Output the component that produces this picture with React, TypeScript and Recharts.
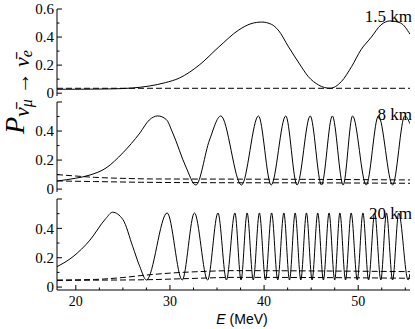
import React from 'react';
import { LineChart, Line, XAxis, YAxis } from 'recharts';

// energy axis ticks (MeV): majors every 10, minors every 2.5
const xTicks = [20, 22.5, 25, 27.5, 30, 32.5, 35, 37.5, 40, 42.5, 45, 47.5, 50, 52.5, 55];
const xLabels = [20, 30, 40, 50];
const yTicks = [0, 0.1, 0.2, 0.3, 0.4, 0.5, 0.6];

// 1.5 km
const e1 = [18, 20, 22, 24, 26, 27.8, 29.5, 31, 33.1, 35.2, 37.3, 38.6, 39.75, 40.8, 41.5, 42.6, 43.7, 44.7, 45.8, 47.0, 48.2, 49.3, 50.3, 51.4, 52.4, 53.4, 54.5, 55.5];
const p1 = [0.028, 0.028, 0.029, 0.031, 0.037, 0.051, 0.075, 0.108, 0.2, 0.33, 0.45, 0.495, 0.507, 0.49, 0.45, 0.33, 0.215, 0.118, 0.058, 0.035, 0.082, 0.19, 0.31, 0.4, 0.486, 0.515, 0.5, 0.42];
const e1Dash = [18, 55.5];
const p1Dash = [0.035, 0.035];

// 8 km
const e2 = [18, 20, 21.5, 23.2, 25, 26.8, 27.8, 28.7, 29.6, 30.3, 31.7, 32.75, 34.2, 35.4, 37.6, 39.4, 40.75, 42.3, 43.5, 44.9, 46.1, 47.25, 48.4, 49.4, 50.85, 52.15, 53.65, 54.95, 55.5];
const p2 = [0.056, 0.075, 0.097, 0.145, 0.25, 0.386, 0.476, 0.504, 0.48, 0.386, 0.152, 0.028, 0.338, 0.504, 0.028, 0.504, 0.028, 0.504, 0.028, 0.504, 0.028, 0.504, 0.028, 0.504, 0.028, 0.504, 0.028, 0.504, 0.45];
const e2DashA = [18, 20, 22, 25, 28, 35, 45, 55.5];
const p2DashA = [0.1, 0.09, 0.081, 0.074, 0.07, 0.069, 0.067, 0.063];
const e2DashB = [18, 22, 27, 35, 45, 55.5];
const p2DashB = [0.056, 0.052, 0.047, 0.044, 0.043, 0.04];

// 20 km
const e3 = [18, 19.7, 21.5, 23.2, 23.9, 25.0, 26.05, 26.8, 27.5, 29.7, 31.3, 32.6, 34.0, 35.1, 36.0, 36.9, 37.55, 38.2, 38.85, 39.5, 40.15, 40.8, 41.45, 42.1, 42.7, 43.3, 43.9, 44.5, 45.1, 45.7, 46.3, 46.9, 47.5, 48.05, 48.65, 49.25, 49.9, 50.5, 51.1, 51.75, 52.4, 53.0, 53.65, 54.3, 55.3, 55.5];
const p3 = [0.139, 0.207, 0.32, 0.468, 0.51, 0.46, 0.275, 0.139, 0.048, 0.505, 0.048, 0.505, 0.048, 0.505, 0.048, 0.505, 0.048, 0.505, 0.048, 0.505, 0.048, 0.505, 0.048, 0.505, 0.048, 0.505, 0.048, 0.505, 0.048, 0.505, 0.048, 0.505, 0.048, 0.505, 0.048, 0.505, 0.048, 0.505, 0.048, 0.505, 0.048, 0.505, 0.048, 0.505, 0.048, 0.09];
const e3DashA = [18, 22, 25, 27.5, 30, 33, 37, 45, 55.5];
const p3DashA = [0.048, 0.052, 0.065, 0.082, 0.095, 0.105, 0.112, 0.11, 0.105];
const e3DashB = [18, 22, 27.5, 32, 37, 45, 55.5];
const p3DashB = [0.045, 0.047, 0.05, 0.058, 0.066, 0.065, 0.06];

const serif = '"Liberation Serif", "Times New Roman", serif';
const sans = '"Liberation Sans", Arial, sans-serif';

const toRows = (es: number[], ps: number[]) => es.map((E, i) => ({ E, p: ps[i] }));

const isMajor = (v: number, step: number) => Math.abs(v / step - Math.round(v / step)) < 1e-6;

function Panel({ top, height, marginTop, marginBottom, axisHeight, series, yLabels, showX }: any) {
  const leftTick = (props: any) => {
    const { x, y, payload } = props;
    const v = payload.value;
    const major = isMajor(v, 0.2);
    const show = major && yLabels.some((l: number) => Math.abs(l - v) < 1e-6);
    return (
      <g>
        <line x1={x} y1={y} x2={x + (major ? 5 : 2.5)} y2={y} stroke="#000" />
        {show && (
          <text x={x - 3} y={y} dy="0.35em" textAnchor="end" fontFamily={serif} fontSize={15} fill="#000">
            {v === 0 ? '0' : v.toFixed(1)}
          </text>
        )}
      </g>
    );
  };
  const rightTick = (props: any) => {
    const { x, y, payload } = props;
    const major = isMajor(payload.value, 0.2);
    return <line x1={x} y1={y} x2={x - (major ? 5 : 2.5)} y2={y} stroke="#000" />;
  };
  const bottomTick = (props: any) => {
    const { x, y, payload } = props;
    const v = payload.value;
    const major = isMajor(v, 10);
    return (
      <g>
        <line x1={x} y1={y} x2={x} y2={y - (major ? 5 : 2.5)} stroke="#000" />
        {showX && xLabels.includes(v) && (
          <text x={x} y={y + 16} textAnchor="middle" fontFamily={serif} fontSize={14} fill="#000">
            {v}
          </text>
        )}
      </g>
    );
  };
  const topTick = (props: any) => {
    const { x, y, payload } = props;
    const major = isMajor(payload.value, 10);
    return <line x1={x} y1={y} x2={x} y2={y + (major ? 5 : 2.5)} stroke="#000" />;
  };

  return (
    <div style={{ position: 'absolute', left: 0, top, width: 415, height }}>
      <LineChart width={415} height={height} margin={{ top: marginTop, right: 5, bottom: marginBottom, left: 0 }}>
        <XAxis
          dataKey="E"
          type="number"
          domain={[18, 55.5]}
          allowDataOverflow
          ticks={xTicks}
          interval={0}
          height={axisHeight}
          tickSize={0}
          tickMargin={0}
          tickLine={false}
          tick={bottomTick}
          axisLine={{ stroke: '#000' }}
        />
        <XAxis
          xAxisId="top"
          orientation="top"
          dataKey="E"
          type="number"
          domain={[18, 55.5]}
          allowDataOverflow
          ticks={xTicks}
          interval={0}
          height={0}
          tickSize={0}
          tickMargin={0}
          tickLine={false}
          tick={topTick}
          axisLine={{ stroke: '#000' }}
        />
        <YAxis
          type="number"
          domain={[-0.02, 0.6]}
          allowDataOverflow
          ticks={yTicks}
          interval={0}
          width={57}
          tickSize={0}
          tickMargin={0}
          tickLine={false}
          tick={leftTick}
          axisLine={{ stroke: '#000' }}
        />
        <YAxis
          yAxisId="right"
          orientation="right"
          type="number"
          domain={[-0.02, 0.6]}
          allowDataOverflow
          ticks={yTicks}
          interval={0}
          width={0}
          tickSize={0}
          tickMargin={0}
          tickLine={false}
          tick={rightTick}
          axisLine={{ stroke: '#000' }}
        />
        {series.map((s: any, i: number) => (
          <Line
            key={i}
            data={s.data}
            dataKey="p"
            type="monotone"
            stroke="#000"
            strokeWidth={1}
            strokeDasharray={s.dashed ? '6 3' : undefined}
            dot={false}
            activeDot={false}
            isAnimationActive={false}
          />
        ))}
      </LineChart>
    </div>
  );
}

export default function App() {
  return (
    <div style={{ position: 'absolute', left: 0, top: 0, width: 415, height: 329, background: '#fff', overflow: 'hidden' }}>
      <Panel
        top={0}
        height={100}
        marginTop={9}
        marginBottom={4}
        axisHeight={0}
        yLabels={[0, 0.2, 0.4, 0.6]}
        series={[
          { data: toRows(e1Dash, p1Dash), dashed: true },
          { data: toRows(e1, p1) },
        ]}
      />
      <Panel
        top={100}
        height={102}
        marginTop={2}
        marginBottom={10}
        axisHeight={0}
        yLabels={[0, 0.2, 0.4]}
        series={[
          { data: toRows(e2DashA, p2DashA), dashed: true },
          { data: toRows(e2DashB, p2DashB), dashed: true },
          { data: toRows(e2, p2) },
        ]}
      />
      <Panel
        top={195}
        height={134}
        marginTop={4}
        marginBottom={9}
        axisHeight={30}
        showX
        yLabels={[0, 0.2, 0.4]}
        series={[
          { data: toRows(e3DashA, p3DashA), dashed: true },
          { data: toRows(e3DashB, p3DashB), dashed: true },
          { data: toRows(e3, p3) },
        ]}
      />
      <svg width={415} height={329} style={{ position: 'absolute', left: 0, top: 0, pointerEvents: 'none' }}>
        <text transform="rotate(-90 24 134)" x={24} y={134} fontFamily={serif} fontStyle="italic" fill="#000">
          <tspan fontSize={28}>P</tspan>
          <tspan fontSize={22} dy={5}>{'\u03BD\u0304'}</tspan>
          <tspan fontSize={16} dy={3}>{'\u03BC'}</tspan>
          <tspan fontSize={22} dy={-3} dx={5} fontStyle="normal">{'\u2192'}</tspan>
          <tspan fontSize={22} dx={5}>{'\u03BD\u0304'}</tspan>
          <tspan fontSize={16} dy={3}>e</tspan>
        </text>
        <text x={412} y={22} textAnchor="end" fontFamily={serif} fontSize={17} fill="#000">1.5 km</text>
        <text x={412} y={120} textAnchor="end" fontFamily={serif} fontSize={17} fill="#000">8 km</text>
        <text x={412} y={219} textAnchor="end" fontFamily={serif} fontSize={17} fill="#000">20 km</text>
        <text x={242} y={324} textAnchor="middle" fontFamily={sans} fontSize={14} fill="#000">
          <tspan fontStyle="italic">E</tspan> (MeV)
        </text>
      </svg>
    </div>
  );
}
